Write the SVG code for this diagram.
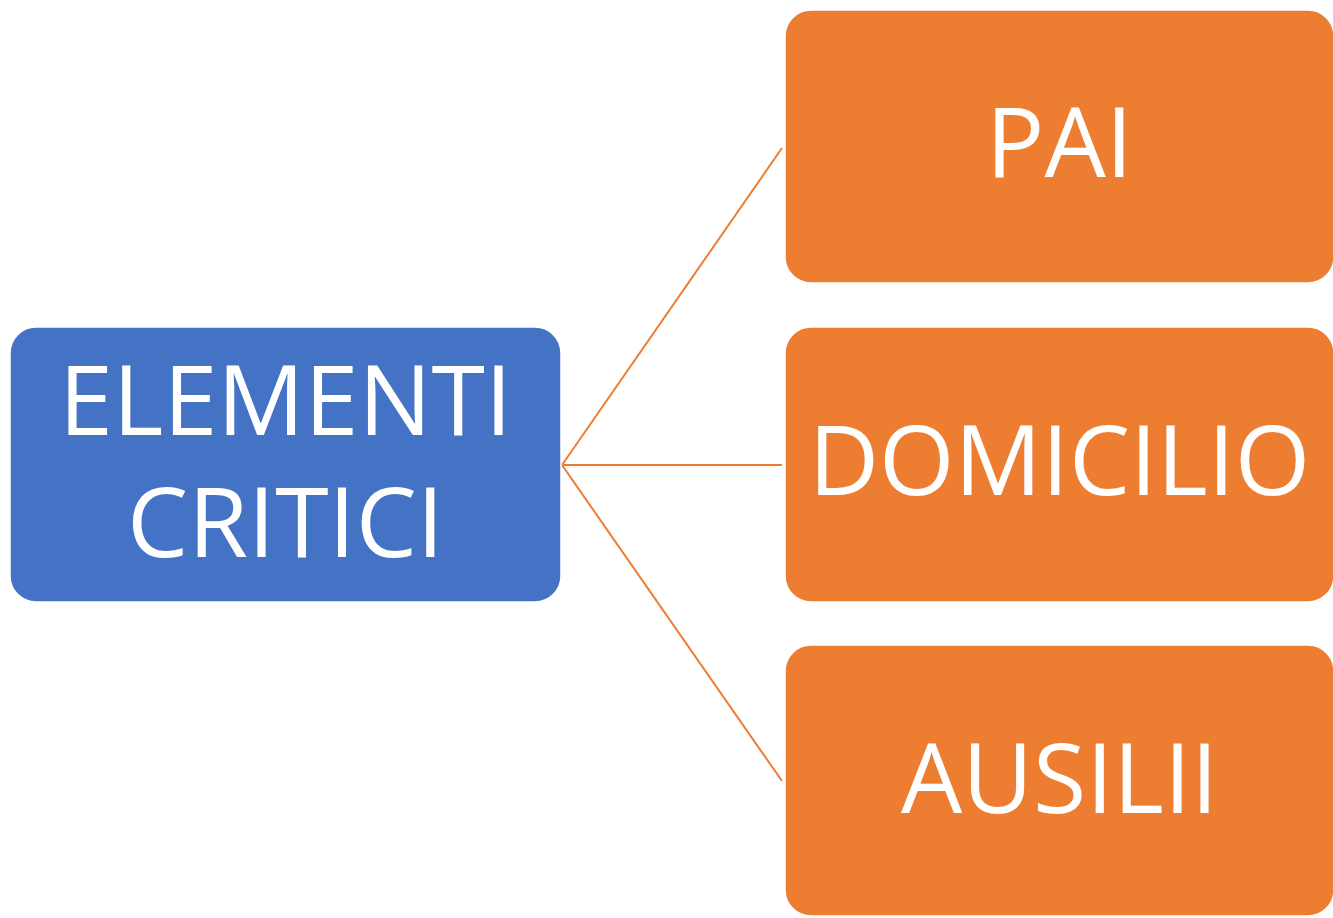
<svg xmlns="http://www.w3.org/2000/svg" width="1333" height="918" viewBox="0 0 1333 918">
<style>
.box{stroke:#ffffff;stroke-width:1.5}
.blue{fill:#4472c4}
.orange{fill:#ed7d31}
.lbl{font-family:"Open Sans","Liberation Sans",sans-serif;font-size:97px;fill:#ffffff;text-anchor:middle}
.conn{stroke:#ed7d31;stroke-width:2;fill:none}
</style>
<rect x="0" y="0" width="1333" height="918" fill="#ffffff"/>
<g id="connectors">
<line class="conn" x1="562" y1="465" x2="782" y2="148"/>
<line class="conn" x1="562" y1="465" x2="782" y2="465"/>
<line class="conn" x1="562" y1="465" x2="782" y2="781"/>
</g>
<g id="node-elementi">
<rect class="box blue" x="10" y="327" width="551" height="275" rx="26"/>
<text class="lbl" x="285.5" y="435">ELEMENTI</text>
<text class="lbl" x="285.5" y="557">CRITICI</text>
</g>
<g id="node-pai">
<rect class="box orange" x="785" y="10" width="549" height="273" rx="26"/>
<text class="lbl" x="1059.5" y="177">PAI</text>
</g>
<g id="node-domicilio">
<rect class="box orange" x="785" y="327" width="549" height="275" rx="26"/>
<text class="lbl" x="1059.5" y="495">DOMICILIO</text>
</g>
<g id="node-ausilii">
<rect class="box orange" x="785" y="645" width="549" height="271" rx="26"/>
<text class="lbl" x="1059.5" y="813">AUSILII</text>
</g>
</svg>
